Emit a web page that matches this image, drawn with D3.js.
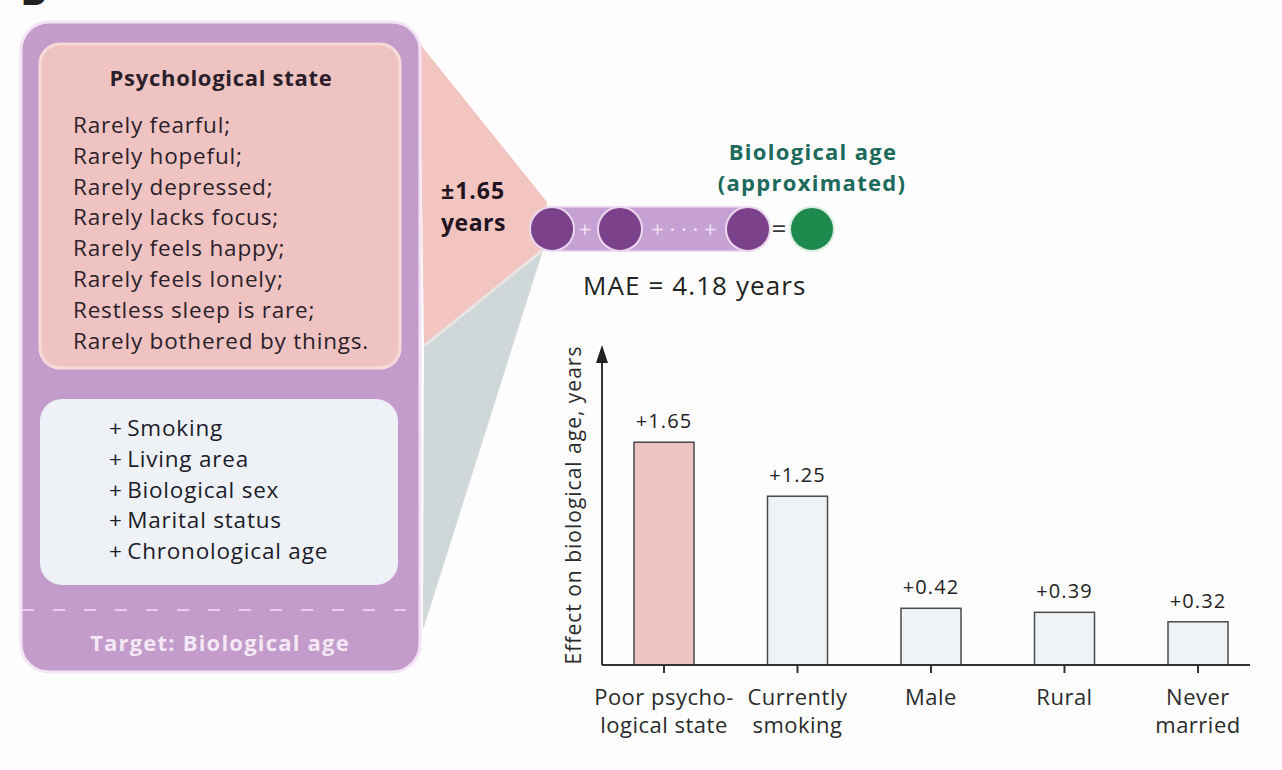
<!DOCTYPE html>
<html>
<head>
<meta charset="utf-8">
<script src="https://cdn.jsdelivr.net/npm/d3@7"></script>
<style>
  body { margin: 0; background: #fdfdfe; }
  svg { display: block; }
  text { font-family: "Open Sans", "Noto Sans", sans-serif; }
</style>
</head>
<body>
<svg id="chart" width="1282" height="770"></svg>
<script>
// ---- data ----
const psychItems = [
  "Rarely fearful;", "Rarely hopeful;", "Rarely depressed;", "Rarely lacks focus;",
  "Rarely feels happy;", "Rarely feels lonely;", "Restless sleep is rare;",
  "Rarely bothered by things."
];
const covariates = ["Smoking", "Living area", "Biological sex", "Marital status", "Chronological age"];
const categories = ["Poor psychological state", "Currently smoking", "Male", "Rural", "Never married"];
const categoryLines = [["Poor psycho-", "logical state"], ["Currently", "smoking"], ["Male"], ["Rural"], ["Never", "married"]];
const effects = [1.65, 1.25, 0.42, 0.39, 0.32];
const highlighted = ["Poor psychological state"];
const maeYears = 4.18;
const yMax = 2.37;

const svg = d3.select("#chart");
const ink = "#2a1f2b";

// panel letter, cut by the top edge as in the source figure
svg.append("text").attr("x", 20).attr("y", 5)
  .attr("font-size", 40).attr("font-weight", 700).attr("fill", "#222").text("B");

// ---- funnel from panel into the model ----
svg.append("path")
  .attr("d", "M420,44 L547,202 L543,250 L424,346 Z")
  .attr("fill", "#f2c5c1");
svg.append("path")
  .attr("d", "M424,346 L543,250 L423,630 Z")
  .attr("fill", "#cfd7d9");
svg.append("line").attr("x1", 424).attr("y1", 346).attr("x2", 543).attr("y2", 250)
  .attr("stroke", "#e9e4e4").attr("stroke-width", 3);

// ---- left panel ----
const panel = svg.append("g");
panel.append("rect").attr("x", 21).attr("y", 22).attr("width", 399).attr("height", 650)
  .attr("rx", 28).attr("fill", "#c39ccb").attr("stroke", "#f3e3f5").attr("stroke-width", 3);
panel.append("rect").attr("x", 40).attr("y", 44).attr("width", 360).attr("height", 324)
  .attr("rx", 20).attr("fill", "#efc3c1").attr("stroke", "#f7dada").attr("stroke-width", 3);
panel.append("rect").attr("x", 40).attr("y", 399).attr("width", 358).attr("height", 186)
  .attr("rx", 22).attr("fill", "#eef2f7");
panel.append("line").attr("x1", 22).attr("x2", 419).attr("y1", 610).attr("y2", 610)
  .attr("stroke", "#e8cdec").attr("stroke-width", 2).attr("stroke-dasharray", "12 19");

panel.append("text").attr("x", 221).attr("y", 86).attr("text-anchor", "middle")
  .attr("font-size", 22).attr("font-weight", 700).attr("letter-spacing", 0.7)
  .attr("fill", ink).text("Psychological state");

panel.selectAll(".psych").data(psychItems).join("text")
  .attr("class", "psych")
  .attr("x", 73).attr("y", (d, i) => 133 + i * 30.8)
  .attr("font-size", 22.5).attr("letter-spacing", 0.8)
  .attr("fill", ink).text(d => d);

panel.selectAll(".cov").data(covariates).join("text")
  .attr("class", "cov")
  .attr("x", 109).attr("y", (d, i) => 436 + i * 30.8)
  .attr("font-size", 22.5).attr("letter-spacing", 0.8)
  .attr("fill", "#1c1c2a").text(d => "+\u2009" + d);

panel.append("text").attr("x", 220).attr("y", 651).attr("text-anchor", "middle")
  .attr("font-size", 22).attr("font-weight", 700).attr("letter-spacing", 1.2)
  .attr("fill", "#f4e8f5").text("Target: Biological age");

svg.append("text").attr("x", 441).attr("y", 199)
  .attr("font-size", 23).attr("font-weight", 700).attr("letter-spacing", 1)
  .attr("fill", "#1f141f").text("\u00b1" + effects[0].toFixed(2));
svg.append("text").attr("x", 441).attr("y", 231)
  .attr("font-size", 23).attr("font-weight", 700).attr("letter-spacing", 0.5)
  .attr("fill", "#1f141f").text("years");

// ---- model pipeline ----
const pipe = svg.append("g");
pipe.append("rect").attr("x", 552).attr("y", 207).attr("width", 198).attr("height", 44)
  .attr("fill", "#c7a1d3").attr("stroke", "#e7d2ee").attr("stroke-width", 1.5);
[552, 620, 748].forEach(cx => pipe.append("circle").attr("cx", cx).attr("cy", 229).attr("r", 22)
  .attr("fill", "#7c418b").attr("stroke", "#ead7ee").attr("stroke-width", 2));
pipe.append("circle").attr("cx", 812).attr("cy", 229).attr("r", 22)
  .attr("fill", "#1f8a4d").attr("stroke", "#d9eee0").attr("stroke-width", 2);
pipe.append("text").attr("x", 585).attr("y", 237).attr("text-anchor", "middle")
  .attr("font-size", 22).attr("fill", "#eee2f2").text("+");
pipe.append("text").attr("x", 684).attr("y", 237).attr("text-anchor", "middle")
  .attr("font-size", 22).attr("fill", "#eee2f2").text("+ \u00b7 \u00b7 \u00b7 +");
pipe.append("text").attr("x", 779).attr("y", 238).attr("text-anchor", "middle")
  .attr("font-size", 26).attr("fill", "#3a3a3a").text("=");

svg.append("text").attr("x", 813).attr("y", 160).attr("text-anchor", "middle")
  .attr("font-size", 22).attr("font-weight", 700).attr("letter-spacing", 1.3)
  .attr("fill", "#1c6a5c").text("Biological age");
svg.append("text").attr("x", 812).attr("y", 191).attr("text-anchor", "middle")
  .attr("font-size", 22).attr("font-weight", 700).attr("letter-spacing", 1.3)
  .attr("fill", "#1c6a5c").text("(approximated)");

svg.append("text").attr("x", 583).attr("y", 295)
  .attr("font-size", 26).attr("letter-spacing", 1.1)
  .attr("fill", "#222").text(`MAE = ${maeYears.toFixed(2)} years`);

// ---- bar chart ----
const x = d3.scalePoint().domain(categories).range([664, 1198]);
const y = d3.scaleLinear().domain([0, yMax]).range([665, 345]);
const barW = 60;

const chart = svg.append("g");

chart.selectAll(".bar").data(categories).join("rect")
  .attr("class", "bar")
  .attr("x", d => x(d) - barW / 2)
  .attr("y", (d, i) => y(effects[i]))
  .attr("width", barW)
  .attr("height", (d, i) => y(0) - y(effects[i]))
  .attr("fill", d => highlighted.includes(d) ? "#efc3c1" : "#eef3f8")
  .attr("stroke", "#4a4a4a").attr("stroke-width", 1.5);

chart.selectAll(".val").data(categories).join("text")
  .attr("class", "val")
  .attr("x", d => x(d))
  .attr("y", (d, i) => y(effects[i]) - 14)
  .attr("text-anchor", "middle")
  .attr("font-size", 20).attr("letter-spacing", 1.1).attr("fill", "#222")
  .text((d, i) => "+" + effects[i].toFixed(2));

// x axis with ticks at bar centres
const xAxis = chart.append("g").attr("transform", `translate(0,${y(0)})`);
xAxis.append("line").attr("x1", 602).attr("x2", 1250).attr("stroke", "#333").attr("stroke-width", 2);
xAxis.selectAll(".tick").data(categories).join("line")
  .attr("x1", d => x(d)).attr("x2", d => x(d)).attr("y1", 0).attr("y2", 8)
  .attr("stroke", "#333").attr("stroke-width", 2);

chart.selectAll(".cat").data(categories).join("text")
  .attr("class", "cat")
  .attr("x", d => x(d))
  .attr("y", y(0) + 40)
  .attr("text-anchor", "middle")
  .attr("font-size", 22).attr("letter-spacing", 0.5).attr("fill", "#2b2b2b")
  .selectAll("tspan").data((d, i) => categoryLines[i]).join("tspan")
  .attr("x", function () { return this.parentNode.getAttribute("x"); })
  .attr("dy", (d, i) => i === 0 ? 0 : 28)
  .text(d => d);

// y axis with arrow
chart.append("line").attr("x1", 602).attr("x2", 602).attr("y1", y(0)).attr("y2", y(yMax) + 12)
  .attr("stroke", "#333").attr("stroke-width", 2);
chart.append("path")
  .attr("d", `M602,${y(yMax)} L596,${y(yMax) + 18} L608,${y(yMax) + 18} Z`)
  .attr("fill", "#222");

chart.append("text")
  .attr("transform", `translate(581,${(y(0) + y(yMax)) / 2}) rotate(-90)`)
  .attr("text-anchor", "middle")
  .attr("font-size", 21).attr("letter-spacing", 1).attr("fill", "#2b2b2b")
  .text("Effect on biological age, years");
</script>
</body>
</html>
